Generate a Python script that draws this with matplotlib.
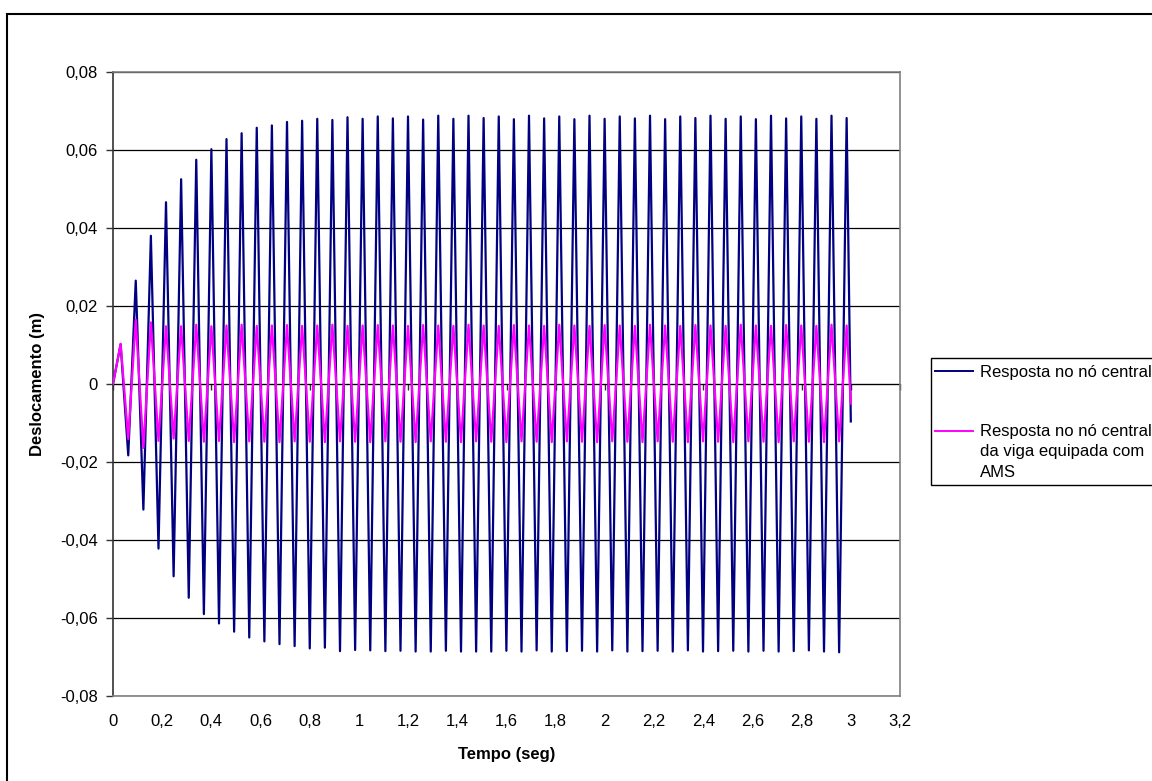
import numpy as np
import matplotlib.pyplot as plt
from matplotlib.lines import Line2D
from matplotlib.patches import Rectangle
from matplotlib.ticker import FuncFormatter

plt.rcParams['font.family'] = ['Liberation Sans', 'DejaVu Sans']
plt.rcParams['font.size'] = 12

# times (s) of the maxima and minima
peak_t = [0.031, 0.0925, 0.154, 0.2155, 0.277, 0.3385, 0.400, 0.4615, 0.523, 0.5845,
          0.646, 0.7075, 0.769, 0.8305, 0.892, 0.9535, 1.015, 1.0765, 1.138, 1.1995,
          1.261, 1.3225, 1.384, 1.4455, 1.507, 1.5685, 1.630, 1.6915, 1.753, 1.8145,
          1.876, 1.9375, 1.999, 2.0605, 2.122, 2.1835, 2.245, 2.3065, 2.368, 2.4295,
          2.491, 2.5525, 2.614, 2.6755, 2.737, 2.7985, 2.860, 2.9215, 2.983]
trough_t = [0.062, 0.1235, 0.185, 0.2465, 0.308, 0.3695, 0.431, 0.4925, 0.554, 0.6155,
            0.677, 0.7385, 0.800, 0.8615, 0.923, 0.9845, 1.046, 1.1075, 1.169, 1.2305,
            1.292, 1.3535, 1.415, 1.4765, 1.538, 1.5995, 1.661, 1.7225, 1.784, 1.8455,
            1.907, 1.9685, 2.030, 2.0915, 2.153, 2.2145, 2.276, 2.3375, 2.399, 2.4605,
            2.522, 2.5835, 2.645, 2.7065, 2.768, 2.8295, 2.891, 2.9525]

# viga sem AMS (azul)
blue_peak = [0.0102, 0.0265, 0.0380, 0.0466, 0.0525, 0.0575, 0.0602, 0.0628, 0.0643, 0.0657,
             0.0663, 0.0672, 0.0675, 0.0680, 0.0677, 0.0684, 0.0680, 0.0686, 0.0681, 0.0686,
             0.0678, 0.0688, 0.0680, 0.0688, 0.0682, 0.0686, 0.0679, 0.0688, 0.0681, 0.0686,
             0.0679, 0.0688, 0.0680, 0.0686, 0.0681, 0.0688, 0.0679, 0.0686, 0.0682, 0.0688,
             0.0680, 0.0686, 0.0679, 0.0688, 0.0681, 0.0686, 0.0680, 0.0688, 0.0682]
blue_trough = [-0.0183, -0.0322, -0.0422, -0.0493, -0.0548, -0.0590, -0.0614, -0.0635, -0.0650, -0.0660,
               -0.0667, -0.0672, -0.0678, -0.0676, -0.0685, -0.0682, -0.0683, -0.0685, -0.0684, -0.0686,
               -0.0686, -0.0684, -0.0686, -0.0686, -0.0686, -0.0684, -0.0686, -0.0683, -0.0686, -0.0685,
               -0.0684, -0.0686, -0.0683, -0.0686, -0.0685, -0.0684, -0.0686, -0.0683, -0.0686, -0.0685,
               -0.0684, -0.0686, -0.0684, -0.0686, -0.0685, -0.0683, -0.0686, -0.0688]
blue_end = -0.0096

# viga equipada com AMS (magenta)
pink_peak = [0.0103, 0.0165, 0.0158, 0.0148, 0.0148, 0.0152, 0.0148, 0.0150, 0.0152, 0.0149,
             0.0150, 0.0151, 0.0149, 0.0150, 0.0152, 0.0149, 0.0150, 0.0151, 0.0150, 0.0149,
             0.0151, 0.0150, 0.0149, 0.0152, 0.0150, 0.0149, 0.0151, 0.0150, 0.0149, 0.0152,
             0.0150, 0.0149, 0.0151, 0.0150, 0.0149, 0.0152, 0.0150, 0.0149, 0.0151, 0.0150,
             0.0149, 0.0152, 0.0150, 0.0149, 0.0151, 0.0150, 0.0149, 0.0152, 0.0150]
pink_trough = [-0.0141, -0.0164, -0.0146, -0.0140, -0.0146, -0.0148, -0.0146, -0.0149, -0.0147, -0.0148,
               -0.0149, -0.0147, -0.0148, -0.0149, -0.0147, -0.0148, -0.0149, -0.0147, -0.0148, -0.0149,
               -0.0147, -0.0148, -0.0149, -0.0147, -0.0148, -0.0149, -0.0147, -0.0148, -0.0149, -0.0147,
               -0.0148, -0.0149, -0.0147, -0.0148, -0.0149, -0.0147, -0.0148, -0.0149, -0.0147, -0.0148,
               -0.0149, -0.0147, -0.0148, -0.0149, -0.0147, -0.0148, -0.0149, -0.0147]
pink_end = -0.0050

t_start, t_end = 0.0, 3.0

labels = ['Resposta no nó central',
          'Resposta no nó central\nda viga equipada com\nAMS']


def build(peaks, troughs, end):
    t, v = [t_start], [0.0]
    for i in range(len(troughs)):
        t += [peak_t[i], trough_t[i]]
        v += [peaks[i], troughs[i]]
    t.append(peak_t[-1])
    v.append(peaks[-1])
    t.append(t_end)
    v.append(end)
    return t, v


W, H = 1152, 781
fig = plt.figure(figsize=(W / 100, H / 100), dpi=100)


def fx(px):
    return px / W


def fy(py):
    return 1 - py / H


ax = fig.add_axes([fx(113), fy(696), (900 - 113) / W, (696 - 72) / H])

bt, bv = build(blue_peak, blue_trough, blue_end)
pt, pv = build(pink_peak, pink_trough, pink_end)
ax.plot(bt, bv, color='#000080', lw=1.6, zorder=3)
ax.plot(pt, pv, color='#FF00FF', lw=1.6, zorder=4)

ax.set_xlim(0, 3.2)
ax.set_ylim(-0.08, 0.08)
ax.set_xticks(np.arange(0, 3.21, 0.2))
ax.set_yticks(np.arange(-0.08, 0.081, 0.02))
ax.xaxis.set_major_formatter(FuncFormatter(lambda v, p: f'{round(v, 1):g}'.replace('.', ',')))
ax.yaxis.set_major_formatter(FuncFormatter(
    lambda v, p: '0' if abs(v) < 1e-9 else f'{v:.2f}'.replace('.', ',')))
ax.yaxis.grid(True, color='black', lw=0.9)
ax.set_axisbelow(True)
ax.tick_params(axis='x', length=0, pad=13, labelsize=12)
ax.tick_params(axis='y', length=5, width=1, direction='out', pad=6, labelsize=12, color='#333333')

for s in ['top', 'right', 'bottom']:
    ax.spines[s].set_color('#808080')
    ax.spines[s].set_linewidth(1.2)
ax.spines['left'].set_color('#333333')
ax.spines['left'].set_linewidth(1.2)

# eixo x cruzando em y = 0
sec = ax.secondary_xaxis(0.5)
sec.set_xticks(np.arange(0, 3.21, 0.2))
sec.tick_params(direction='in', length=4, width=1, labeltop=False, labelbottom=False, color='#333333')
sec.spines['top'].set_color('black')
sec.spines['bottom'].set_visible(False)

fig.text(fx(38), fy(384), 'Deslocamento (m)', rotation=90, ha='center', va='center',
         fontweight='bold', fontsize=12)
fig.text(fx(507), fy(755), 'Tempo (seg)', ha='center', va='center',
         fontweight='bold', fontsize=12)

# legenda
fig.add_artist(Rectangle((fx(931), fy(485)), fx(1300 - 931), (485 - 358) / H,
                         transform=fig.transFigure, facecolor='white', edgecolor='black', lw=1))
fig.add_artist(Line2D([fx(935), fx(973)], [fy(371), fy(371)], color='#000080', lw=1.4,
                      transform=fig.transFigure))
fig.add_artist(Line2D([fx(935), fx(973)], [fy(431), fy(431)], color='#FF00FF', lw=1.4,
                      transform=fig.transFigure))
fig.text(fx(980), fy(377), labels[0], ha='left', va='baseline', fontsize=12)
fig.text(fx(980), fy(424), labels[1], ha='left', va='top', fontsize=12, linespacing=1.45)

# moldura do gráfico
fig.add_artist(Rectangle((fx(7), fy(800)), fx(1300), (800 - 14) / H,
                         transform=fig.transFigure, fill=False, edgecolor='black', lw=1.5))

fig.savefig('out.png', dpi=100)
